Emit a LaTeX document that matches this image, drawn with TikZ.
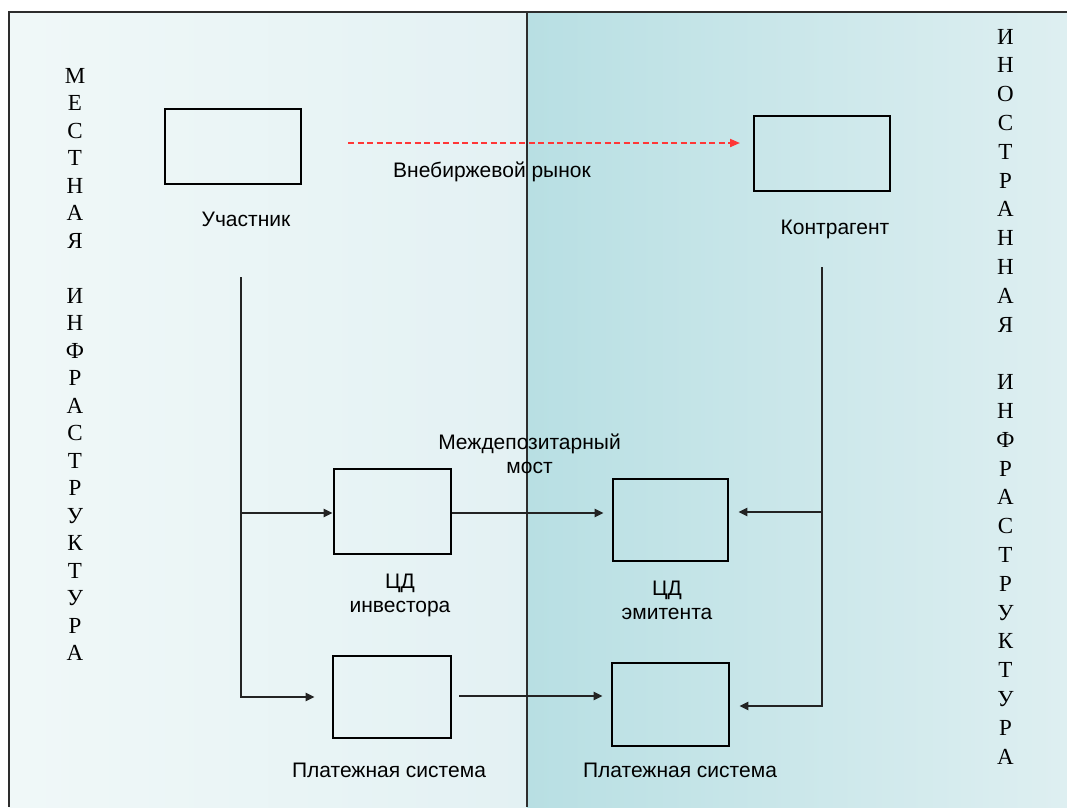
\documentclass[tikz,border=0pt]{standalone}
\usepackage{fontspec}
\setmainfont{Liberation Serif}
\setsansfont{Liberation Sans}
\usetikzlibrary{arrows.meta}
\definecolor{leftA}{RGB}{240,248,248}
\definecolor{leftB}{RGB}{227,241,243}
\definecolor{rightA}{RGB}{184,223,227}
\definecolor{rightB}{RGB}{222,239,241}
\definecolor{frameC}{RGB}{45,45,45}
\definecolor{linkC}{RGB}{35,35,35}
\definecolor{otcred}{RGB}{255,55,55}
\begin{document}
\begin{tikzpicture}[x=1pt,y=-1pt,
  box/.style={draw=black,line width=2.8pt,inner sep=0pt,fill=none},
  lbl/.style={font=\sffamily\fontsize{21}{24}\selectfont,align=center,anchor=base,inner sep=0pt},
  vletter/.style={font=\rmfamily\fontsize{23}{27}\selectfont,anchor=base,inner sep=0pt},
  conn/.style={draw=linkC,line width=2.4pt,-{Triangle[length=9pt,width=8pt]}},
  otc/.style={draw=otcred,line width=1.9pt,dash pattern=on 6pt off 3.5pt,
    -{Triangle[length=10pt,width=8pt]}}]
\useasboundingbox (0,0) rectangle (1067,807);
\fill[white] (0,0) rectangle (1067,807);

% two zones: local and foreign infrastructure
\shade[left color=leftA,right color=leftB] (9,12) rectangle (527,807);
\shade[left color=rightA,right color=rightB] (527,12) rectangle (1067,807);
\draw[frameC,line width=2.6pt] (9,807) -- (9,12) -- (1067,12);
\draw[frameC,line width=2.6pt] (527,12) -- (527,807);

% vertical captions
\foreach \ch [count=\i from 0] in {М,Е,С,Т,Н,А,Я,{},И,Н,Ф,Р,А,С,Т,Р,У,К,Т,У,Р,А}
  \node[vletter] (loc\i) at (75,83+27.5*\i) {\ch};
\foreach \ch [count=\i from 0] in {И,Н,О,С,Т,Р,А,Н,Н,А,Я,{},И,Н,Ф,Р,А,С,Т,Р,У,К,Т,У,Р,А}
  \node[vletter] (for\i) at (1005.5,44+28.8*\i) {\ch};

% boxes
\node[box,minimum width=136pt,minimum height=75pt] (uch) at (233,146.5) {};
\node[box,minimum width=136pt,minimum height=75pt] (kontr) at (822,153.5) {};
\node[box,minimum width=117pt,minimum height=85pt] (cdi) at (392.5,511.5) {};
\node[box,minimum width=115pt,minimum height=82pt] (cde) at (670.5,520) {};
\node[box,minimum width=118pt,minimum height=82pt] (psl) at (392,697) {};
\node[box,minimum width=117pt,minimum height=83pt] (psr) at (670.5,704.5) {};

% labels (multi-line labels are placed by the baseline of their last line)
\node[lbl] (tuch) at (246,226) {Участник};
\node[lbl] (tkontr) at (835,234) {Контрагент};
\node[lbl] (totc) at (492,177) {Внебиржевой рынок};
\node[lbl] (tbridge) at (529.5,473) {Междепозитарный\\мост};
\node[lbl] (tcdi) at (400,612) {ЦД\\инвестора};
\node[lbl] (tcde) at (667,619) {ЦД\\эмитента};
\node[lbl] (tpsl) at (389,777) {Платежная система};
\node[lbl] (tpsr) at (680,777) {Платежная система};

% connector end points
\coordinate (otcS) at (348,143);
\coordinate (otcE) at (740,143);
\coordinate (ltop) at (241,277);
\coordinate (lmid) at (241,513);
\coordinate (rtop) at (822,267);
\coordinate (rmid) at (822,512);
\coordinate (rbot) at (822,706);
\coordinate (payS) at (459,696);

% connectors
\draw[otc] (otcS) -- (otcE);
\draw[conn] (ltop) |- ([xshift=-17pt]psl.west);
\draw[conn] (lmid) -- (lmid -| cdi.west);
\draw[conn] (lmid -| cdi.east) -- ([xshift=-8pt]lmid -| cde.west);
\draw[conn] (payS) -- ([xshift=-8pt]payS -| psr.west);
\draw[conn] (rtop) -- (rbot) -- ([xshift=9pt]rbot -| psr.east);
\draw[conn] (rmid) -- ([xshift=9pt]rmid -| cde.east);
\end{tikzpicture}
\end{document}
